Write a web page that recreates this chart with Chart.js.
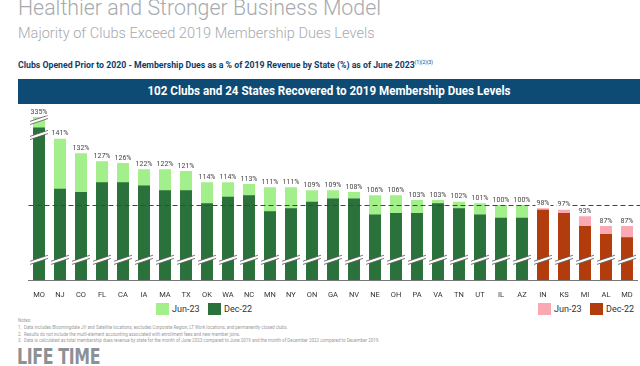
<!DOCTYPE html>
<html>
<head>
<meta charset="utf-8">
<script src="https://cdn.jsdelivr.net/npm/chart.js@4"></script>
<style>
  body { margin: 0; width: 640px; height: 366px; overflow: hidden; background: #fff; position: relative; font-family: Roboto, sans-serif; }
  .abs { position: absolute; white-space: nowrap; }
  #title { left: 18px; top: -5px; font-size: 22px; font-weight: 300; color: #a6aaae; transform-origin: left top; transform: scaleX(0.97); }
  #sub { left: 18px; top: 24px; font-size: 15px; font-weight: 300; color: #a6aaae; transform-origin: left top; transform: scaleX(0.97); }
  #ctitle { left: 18px; top: 59px; font-size: 9px; font-weight: 700; color: #0b3d6b; transform-origin: left top; transform: scaleX(0.97); }
  #ctitle sup { font-size: 5px; font-weight: 400; }
  #banner { left: 18px; top: 79px; width: 622px; height: 25px; background: #0d4a74; }
  #banner span { position: absolute; left: 0; right: 0; top: 5px; text-align: center; color: #fff; font-size: 12px; font-weight: 700; transform: scaleX(0.97); }
  #wrap { left: 0; top: 100px; width: 640px; height: 200px; }
  .leg { top: 303px; font-size: 9px; color: #333; line-height: 12px; }
  .leg i { display: inline-block; width: 13px; height: 12px; vertical-align: top; margin-right: 3px; }
  #notes { left: 18px; top: 318px; font-size: 4.5px; line-height: 6.8px; color: #9a9a9a; }
  #logo { left: 17px; top: 344px; font-size: 22px; font-weight: 700; color: #8c9196; letter-spacing: -0.5px; transform-origin: left top; transform: scaleX(0.72); font-family: "DejaVu Sans", sans-serif; }
</style>
</head>
<body>
<div class="abs" id="title">Healthier and Stronger Business Model</div>
<div class="abs" id="sub">Majority of Clubs Exceed 2019 Membership Dues Levels</div>
<div class="abs" id="ctitle">Clubs Opened Prior to 2020 - Membership Dues as a % of 2019 Revenue by State (%) as of June 2023<sup>(1)(2)(3)</sup></div>
<div class="abs" id="banner"><span>102 Clubs and 24 States Recovered to 2019 Membership Dues Levels</span></div>
<div class="abs" id="wrap"><canvas id="duesBar"></canvas></div>
<div class="abs leg" style="left:156px"><i style="background:#a3ef8b"></i>Jun-23</div>
<div class="abs leg" style="left:208px"><i style="background:#2b713b"></i>Dec-22</div>
<div class="abs leg" style="left:538px"><i style="background:#f9a8b4"></i>Jun-23</div>
<div class="abs leg" style="left:590px"><i style="background:#b33c0c"></i>Dec-22</div>
<div class="abs" id="notes">Notes:<br>
1.&nbsp; Data includes Bloomingdale JV and Satellite locations; excludes Corporate Region, LT Work locations, and permanently closed clubs.<br>
2.&nbsp; Results do not include the multi-element accounting associated with enrollment fees and new member joins.<br>
3.&nbsp; Data is calculated as total membership dues revenue by state for the month of June 2023 compared to June 2019 and the month of December 2022 compared to December 2019.</div>
<div class="abs" id="logo">LIFE TIME</div>

<script>
// Data ================================
const states = ['MO','NJ','CO','FL','CA','IA','MA','TX','OK','WA','NC','MN','NY','ON','GA','NV','NE','OH','PA','VA','TN','UT','IL','AZ','IN','KS','MI','AL','MD'];
// % of 2019 membership dues revenue
const jun23 = [335,141,132,127,126,122,122,121,114,114,113,111,111,109,109,108,106,106,103,103,102,101,100,100,98,97,93,87,87];
const dec22 = [148,110,108,114,114,112,109,109,101,105,106,96,98,102,104,104,94,95,95,101,98,94,92,92,97,95,87,82,80];
const recoveredCount = 24;   // first 24 states are at or above 2019 level

// Chart setup =========================
const Y_MIN = 53.5, Y_MAX = 160;
const CAP = 154.5;          // MO bar is cut (broken axis)
const BREAK_LOW = 66;       // break marks near the bottom of every bar
const MO_BREAKS = [152.6, 143.3];

const lightGreen = '#a3ef8b', darkGreen = '#2b713b';
const pink = '#f9a8b4', rust = '#b33c0c';

const isGreen = (i) => i < recoveredCount;

function drawBreak(ctx, x, w, yc) {
    const half = w / 2 + 3;
    const slope = 3, gap = 1.6;
    ctx.save();
    ctx.fillStyle = '#fff';
    ctx.beginPath();
    ctx.moveTo(x - half, yc + slope + gap);
    ctx.lineTo(x + half, yc - slope + gap);
    ctx.lineTo(x + half, yc - slope - gap);
    ctx.lineTo(x - half, yc + slope - gap);
    ctx.closePath();
    ctx.fill();
    ctx.strokeStyle = '#555';
    ctx.lineWidth = 0.8;
    ctx.beginPath();
    ctx.moveTo(x - half, yc + slope + gap);
    ctx.lineTo(x + half, yc - slope + gap);
    ctx.moveTo(x - half, yc + slope - gap);
    ctx.lineTo(x + half, yc - slope - gap);
    ctx.stroke();
    ctx.restore();
}

// break marks, 100% line and value labels
const overlay = {
    id: 'overlay',
    afterDatasetsDraw(chart) {
        const ctx = chart.ctx;
        const y = chart.scales.y;
        const meta = chart.getDatasetMeta(1);
        meta.data.forEach((bar, i) => {
            drawBreak(ctx, bar.x, bar.width, y.getPixelForValue(BREAK_LOW));
        });
        const mo = meta.data[0];
        MO_BREAKS.forEach(v => drawBreak(ctx, mo.x, mo.width, y.getPixelForValue(v)));

        // 100% reference line
        const y100 = Math.round(y.getPixelForValue(100)) + 0.5;
        ctx.save();
        ctx.strokeStyle = '#444';
        ctx.lineWidth = 1;
        ctx.setLineDash([5, 3]);
        ctx.beginPath();
        ctx.moveTo(chart.chartArea.left, y100);
        ctx.lineTo(640, y100);
        ctx.stroke();
        ctx.restore();

        // labels
        ctx.save();
        ctx.font = '7px Roboto';
        ctx.textAlign = 'center';
        ctx.textBaseline = 'bottom';
        meta.data.forEach((bar, i) => {
            const txt = jun23[i] + '%';
            const ty = bar.y - 1.5;
            const tw = ctx.measureText(txt).width;
            ctx.fillStyle = '#fff';
            ctx.fillRect(bar.x - tw / 2 - 1, ty - 7, tw + 2, 7);
            ctx.fillStyle = '#444';
            ctx.fillText(txt, bar.x, ty);
        });
        ctx.restore();
    }
};

const dataDues = {
    labels: states,
    datasets: [{
        label: 'Dec-22',
        data: dec22.map(v => Math.min(v, CAP)),
        backgroundColor: states.map((s, i) => isGreen(i) ? darkGreen : rust),
        categoryPercentage: 1,
        barPercentage: 0.57
    }, {
        label: 'Jun-23',
        data: jun23.map(v => Math.min(v, CAP)),
        backgroundColor: states.map((s, i) => isGreen(i) ? lightGreen : pink),
        categoryPercentage: 1,
        barPercentage: 0.57
    }]
};

const configDues = {
    type: 'bar',
    data: dataDues,
    plugins: [overlay],
    options: {
        responsive: true,
        maintainAspectRatio: false,
        animation: false,
        layout: { padding: { left: 28.5, right: 2.5, top: 8, bottom: 0 } },
        plugins: { legend: { display: false }, tooltip: { enabled: false } },
        scales: {
            x: {
                stacked: true,
                grid: { display: false },
                border: { display: true, color: '#777' },
                ticks: { color: '#333', font: { family: 'Roboto', size: 7.5 }, padding: 3, maxRotation: 0, autoSkip: false },
                afterFit(scale) { scale.height = 20; }
            },
            y: {
                display: false,
                stacked: false,
                min: Y_MIN,
                max: Y_MAX
            }
        }
    }
};

const duesBar = new Chart(document.getElementById('duesBar'), configDues);
</script>
</body>
</html>
